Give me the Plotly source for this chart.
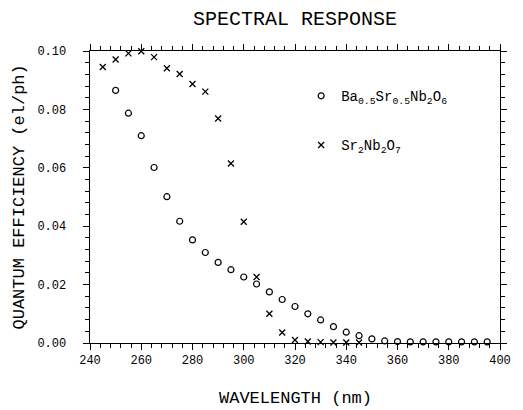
import plotly.graph_objects as go

# ---- data ----
wl_ba = [250, 255, 260, 265, 270, 275, 280, 285, 290, 295, 300, 305, 310, 315, 320,
         325, 330, 335, 340, 345, 350, 355, 360, 365, 370, 375, 380, 385, 390, 395]
qe_ba = [0.0865, 0.0787, 0.0710, 0.0601, 0.0501, 0.0417, 0.0353, 0.0310, 0.0276, 0.0251,
         0.0226, 0.0202, 0.0175, 0.0149, 0.0125, 0.0100, 0.0079, 0.0056, 0.0037, 0.0025,
         0.0014, 0.0007, 0.0005, 0.0004, 0.0004, 0.0004, 0.0004, 0.0004, 0.0004, 0.0004]

wl_sr = [245, 250, 255, 260, 265, 270, 275, 280, 285, 290, 295, 300, 305, 310, 315,
         320, 325, 330, 335, 340, 345]
qe_sr = [0.0945, 0.0971, 0.0992, 0.0999, 0.0979, 0.0941, 0.0921, 0.0887, 0.0861, 0.0769,
         0.0615, 0.0415, 0.0226, 0.0100, 0.0036, 0.0010, 0.0005, 0.0003, 0.0002, 0.0002,
         0.0002]

x_range = [240, 400]
x_major_step = 20
x_minor_step = 4
y_range = [0.0, 0.10]
y_major_step = 0.02
y_minor_step = 0.004

name_ba = "Ba<sub>0.5</sub>Sr<sub>0.5</sub>Nb<sub>2</sub>O<sub>6</sub>"
name_sr = "Sr<sub>2</sub>Nb<sub>2</sub>O<sub>7</sub>"

FONT = "Liberation Mono"

fig = go.Figure()
fig.add_trace(go.Scatter(
    x=wl_ba, y=qe_ba, mode="markers", name=name_ba, legendgroup="a",
    marker=dict(symbol="circle-open", size=6, color="black", line=dict(width=1.2)),
    cliponaxis=False))
fig.add_trace(go.Scatter(
    x=wl_sr, y=qe_sr, mode="markers", name=name_sr, legendgroup="b",
    marker=dict(symbol="x-thin-open", size=6, color="black", line=dict(width=1.3, color="black")),
    cliponaxis=False))

axis_common = dict(
    showline=True, linecolor="#000000", linewidth=1, mirror="ticks",
    ticks="outside", ticklen=6, tickcolor="#000000", tickwidth=1,
    showgrid=False, zeroline=False,
    tickfont=dict(family=FONT, size=12, color="black"),
)

fig.update_xaxes(range=x_range, tickmode="linear", tick0=x_range[0], dtick=x_major_step,
                 minor=dict(dtick=x_minor_step, ticks="outside", ticklen=4,
                            tickcolor="#000000", tickwidth=1),
                 **axis_common)
fig.update_yaxes(range=y_range, tickmode="linear", tick0=0, dtick=y_major_step,
                 tickformat=".2f", ticksuffix="\u00a0\u00a0",
                 minor=dict(dtick=y_minor_step, ticks="outside", ticklen=4,
                            tickcolor="#000000", tickwidth=1),
                 **axis_common)

fig.update_layout(
    width=523, height=410,
    margin=dict(l=90, r=13, t=51, b=67),
    paper_bgcolor="white", plot_bgcolor="white",
    font=dict(family=FONT, color="black"),
    title=dict(text="SPECTRAL RESPONSE", x=0.5, xref="paper", y=0.955, yref="container",
               yanchor="middle", font=dict(family=FONT, size=20, color="black")),
    showlegend=True,
    legend=dict(x=0.515, y=0.90, xanchor="left", yanchor="top", traceorder="grouped",
                tracegroupgap=28, bgcolor="rgba(0,0,0,0)",
                font=dict(family=FONT, size=14, color="black")),
    annotations=[
        dict(text="WAVELENGTH (nm)", xref="paper", yref="paper", x=0.5, y=-0.19,
             xanchor="center", yanchor="middle", showarrow=False,
             font=dict(family=FONT, size=17, color="black")),
        dict(text="QUANTUM EFFICIENCY (el/ph)", xref="paper", yref="paper", x=-0.172, y=0.5,
             xanchor="center", yanchor="middle", textangle=-90, showarrow=False,
             font=dict(family=FONT, size=17, color="black")),
    ],
)

fig.write_html("out.html", config={"displayModeBar": False},
               post_script="document.body.style.margin='0px';")
